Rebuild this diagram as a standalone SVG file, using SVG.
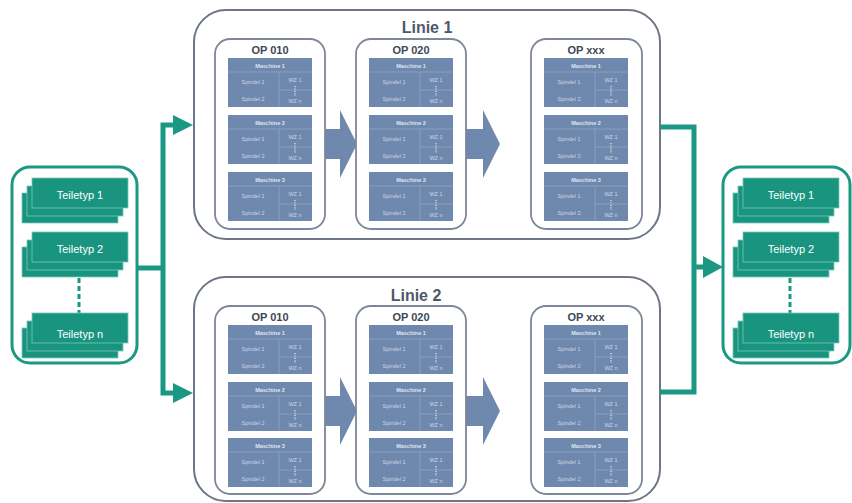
<svg xmlns="http://www.w3.org/2000/svg" width="852" height="503" viewBox="0 0 852 503">
<defs>
<style>
.bg{fill:#ffffff}
.ext{fill:#ffffff;stroke:#1b9883;stroke-width:3}
.tt{fill:#19957f;stroke:#7cc7b9;stroke-width:0.8}
.ttx{font-family:"Liberation Sans",Arial,sans-serif;font-size:11px;fill:#ffffff;text-anchor:middle}
.dash{stroke:#1b9883;stroke-width:3;stroke-dasharray:5 3;fill:none}
.line{fill:#ffffff;stroke:#6c7687;stroke-width:2}
.ltitle{font-family:"Liberation Sans",Arial,sans-serif;font-size:16px;font-weight:bold;fill:#4d5868;text-anchor:middle}
.op{fill:#ffffff;stroke:#7d8797;stroke-width:1.8}
.optitle{font-family:"Liberation Sans",Arial,sans-serif;font-size:11px;font-weight:bold;fill:#3e4756;text-anchor:middle}
.m{fill:#6f88ad}
.ml{stroke:#90a4c3;stroke-width:0.8;fill:none}
.mh{font-family:"Liberation Sans",Arial,sans-serif;font-size:5.5px;font-weight:bold;fill:#dfe6f1;text-anchor:middle}
.mt{font-family:"Liberation Sans",Arial,sans-serif;font-size:5.5px;fill:#cdd7e6;text-anchor:middle}
.md{stroke:#dfe6f1;stroke-width:1.2;stroke-dasharray:1.2 1.2;fill:none}
.flow{fill:#6f88ad}
.conn{stroke:#1b9883;stroke-width:5;fill:none}
.head{fill:#1b9883}
</style>
</defs>
<rect class="bg" x="0" y="0" width="852" height="503"/>

<g id="input">
<rect class="ext" x="12" y="167" width="125" height="196" rx="18"/>
<rect class="tt" x="22" y="193" width="96" height="30"/><rect class="tt" x="27" y="186" width="96" height="30"/><rect class="tt" x="32" y="178" width="96" height="30"/>
<text class="ttx" x="80" y="199">Teiletyp 1</text>
<rect class="tt" x="22" y="247" width="96" height="30"/><rect class="tt" x="27" y="240" width="96" height="30"/><rect class="tt" x="32" y="232" width="96" height="30"/>
<text class="ttx" x="80" y="253">Teiletyp 2</text>
<line class="dash" x1="79" y1="278" x2="79" y2="313"/>
<rect class="tt" x="22" y="328" width="96" height="30"/><rect class="tt" x="27" y="321" width="96" height="30"/><rect class="tt" x="32" y="313" width="96" height="30"/>
<text class="ttx" x="80" y="338">Teiletyp n</text>
</g>

<g id="output">
<rect class="ext" x="723" y="167" width="127" height="196" rx="18"/>
<rect class="tt" x="733" y="193" width="96" height="30"/><rect class="tt" x="738" y="186" width="96" height="30"/><rect class="tt" x="743" y="178" width="96" height="30"/>
<text class="ttx" x="791" y="199">Teiletyp 1</text>
<rect class="tt" x="733" y="247" width="96" height="30"/><rect class="tt" x="738" y="240" width="96" height="30"/><rect class="tt" x="743" y="232" width="96" height="30"/>
<text class="ttx" x="791" y="253">Teiletyp 2</text>
<line class="dash" x1="790" y1="278" x2="790" y2="313"/>
<rect class="tt" x="733" y="328" width="96" height="30"/><rect class="tt" x="738" y="321" width="96" height="30"/><rect class="tt" x="743" y="313" width="96" height="30"/>
<text class="ttx" x="791" y="338">Teiletyp n</text>
</g>

<g id="linie1">
<rect class="line" x="194" y="10" width="466" height="229" rx="32"/>
<text class="ltitle" x="427" y="33">Linie 1</text>
</g>
<g id="linie2">
<rect class="line" x="194" y="277" width="466" height="224" rx="32"/>
<text class="ltitle" x="416" y="301">Linie 2</text>
</g>

<g id="connectors">
<polygon class="flow" points="325,129 340,129 340,110 357,144 340,178 340,159 325,159"/>
<polygon class="flow" points="466,129 483,129 483,110 500,144 483,178 483,159 466,159"/>
<polygon class="flow" points="325,396 340,396 340,377 357,411 340,445 340,426 325,426"/>
<polygon class="flow" points="466,396 483,396 483,377 500,411 483,445 483,426 466,426"/>
<path class="conn" d="M137,268 H163 M163,122.5 V395.5 M160.5,125 H176 M160.5,393 H176"/>
<polygon class="head" points="173,115 193,125 173,135"/>
<polygon class="head" points="173,383 193,393 173,403"/>
<path class="conn" d="M660,127 H694 V392 H660 M694,267 H706"/>
<polygon class="head" points="703,256 723,267 703,278"/>
</g>

<g id="l1-op010" transform="translate(215,39)">
<rect class="op" x="0" y="0" width="110" height="190" rx="15"/>
<text class="optitle" x="55" y="15">OP 010</text>
<g transform="translate(13,19)"><rect class="m" width="84" height="49"/><path class="ml" d="M0,14H84M51,14V49M51,32H84"/><text class="mh" x="42" y="9.5">Maschine 1</text><text class="mt" x="25" y="26">Spindel 1</text><text class="mt" x="25" y="43">Spindel 2</text><text class="mt" x="67" y="24">WZ 1</text><path class="md" d="M67,28V38"/><text class="mt" x="67" y="45">WZ n</text></g>
<g transform="translate(13,76)"><rect class="m" width="84" height="49"/><path class="ml" d="M0,14H84M51,14V49M51,32H84"/><text class="mh" x="42" y="9.5">Maschine 2</text><text class="mt" x="25" y="26">Spindel 1</text><text class="mt" x="25" y="43">Spindel 2</text><text class="mt" x="67" y="24">WZ 1</text><path class="md" d="M67,28V38"/><text class="mt" x="67" y="45">WZ n</text></g>
<g transform="translate(13,133)"><rect class="m" width="84" height="49"/><path class="ml" d="M0,14H84M51,14V49M51,32H84"/><text class="mh" x="42" y="9.5">Maschine 3</text><text class="mt" x="25" y="26">Spindel 1</text><text class="mt" x="25" y="43">Spindel 2</text><text class="mt" x="67" y="24">WZ 1</text><path class="md" d="M67,28V38"/><text class="mt" x="67" y="45">WZ n</text></g>
</g>

<g id="l1-op020" transform="translate(356,39)">
<rect class="op" x="0" y="0" width="110" height="190" rx="15"/>
<text class="optitle" x="55" y="15">OP 020</text>
<g transform="translate(13,19)"><rect class="m" width="84" height="49"/><path class="ml" d="M0,14H84M51,14V49M51,32H84"/><text class="mh" x="42" y="9.5">Maschine 1</text><text class="mt" x="25" y="26">Spindel 1</text><text class="mt" x="25" y="43">Spindel 2</text><text class="mt" x="67" y="24">WZ 1</text><path class="md" d="M67,28V38"/><text class="mt" x="67" y="45">WZ n</text></g>
<g transform="translate(13,76)"><rect class="m" width="84" height="49"/><path class="ml" d="M0,14H84M51,14V49M51,32H84"/><text class="mh" x="42" y="9.5">Maschine 2</text><text class="mt" x="25" y="26">Spindel 1</text><text class="mt" x="25" y="43">Spindel 2</text><text class="mt" x="67" y="24">WZ 1</text><path class="md" d="M67,28V38"/><text class="mt" x="67" y="45">WZ n</text></g>
<g transform="translate(13,133)"><rect class="m" width="84" height="49"/><path class="ml" d="M0,14H84M51,14V49M51,32H84"/><text class="mh" x="42" y="9.5">Maschine 3</text><text class="mt" x="25" y="26">Spindel 1</text><text class="mt" x="25" y="43">Spindel 2</text><text class="mt" x="67" y="24">WZ 1</text><path class="md" d="M67,28V38"/><text class="mt" x="67" y="45">WZ n</text></g>
</g>

<g id="l1-opxxx" transform="translate(531,39)">
<rect class="op" x="0" y="0" width="111" height="190" rx="15"/>
<text class="optitle" x="55" y="15">OP xxx</text>
<g transform="translate(13,19)"><rect class="m" width="84" height="49"/><path class="ml" d="M0,14H84M51,14V49M51,32H84"/><text class="mh" x="42" y="9.5">Maschine 1</text><text class="mt" x="25" y="26">Spindel 1</text><text class="mt" x="25" y="43">Spindel 2</text><text class="mt" x="67" y="24">WZ 1</text><path class="md" d="M67,28V38"/><text class="mt" x="67" y="45">WZ n</text></g>
<g transform="translate(13,76)"><rect class="m" width="84" height="49"/><path class="ml" d="M0,14H84M51,14V49M51,32H84"/><text class="mh" x="42" y="9.5">Maschine 2</text><text class="mt" x="25" y="26">Spindel 1</text><text class="mt" x="25" y="43">Spindel 2</text><text class="mt" x="67" y="24">WZ 1</text><path class="md" d="M67,28V38"/><text class="mt" x="67" y="45">WZ n</text></g>
<g transform="translate(13,133)"><rect class="m" width="84" height="49"/><path class="ml" d="M0,14H84M51,14V49M51,32H84"/><text class="mh" x="42" y="9.5">Maschine 3</text><text class="mt" x="25" y="26">Spindel 1</text><text class="mt" x="25" y="43">Spindel 2</text><text class="mt" x="67" y="24">WZ 1</text><path class="md" d="M67,28V38"/><text class="mt" x="67" y="45">WZ n</text></g>
</g>

<g id="l2-op010" transform="translate(215,306)">
<rect class="op" x="0" y="0" width="110" height="188" rx="15"/>
<text class="optitle" x="55" y="15">OP 010</text>
<g transform="translate(13,19)"><rect class="m" width="84" height="49"/><path class="ml" d="M0,14H84M51,14V49M51,32H84"/><text class="mh" x="42" y="9.5">Maschine 1</text><text class="mt" x="25" y="26">Spindel 1</text><text class="mt" x="25" y="43">Spindel 2</text><text class="mt" x="67" y="24">WZ 1</text><path class="md" d="M67,28V38"/><text class="mt" x="67" y="45">WZ n</text></g>
<g transform="translate(13,76)"><rect class="m" width="84" height="49"/><path class="ml" d="M0,14H84M51,14V49M51,32H84"/><text class="mh" x="42" y="9.5">Maschine 2</text><text class="mt" x="25" y="26">Spindel 1</text><text class="mt" x="25" y="43">Spindel 2</text><text class="mt" x="67" y="24">WZ 1</text><path class="md" d="M67,28V38"/><text class="mt" x="67" y="45">WZ n</text></g>
<g transform="translate(13,132)"><rect class="m" width="84" height="49"/><path class="ml" d="M0,14H84M51,14V49M51,32H84"/><text class="mh" x="42" y="9.5">Maschine 3</text><text class="mt" x="25" y="26">Spindel 1</text><text class="mt" x="25" y="43">Spindel 2</text><text class="mt" x="67" y="24">WZ 1</text><path class="md" d="M67,28V38"/><text class="mt" x="67" y="45">WZ n</text></g>
</g>

<g id="l2-op020" transform="translate(356,306)">
<rect class="op" x="0" y="0" width="110" height="188" rx="15"/>
<text class="optitle" x="55" y="15">OP 020</text>
<g transform="translate(13,19)"><rect class="m" width="84" height="49"/><path class="ml" d="M0,14H84M51,14V49M51,32H84"/><text class="mh" x="42" y="9.5">Maschine 1</text><text class="mt" x="25" y="26">Spindel 1</text><text class="mt" x="25" y="43">Spindel 2</text><text class="mt" x="67" y="24">WZ 1</text><path class="md" d="M67,28V38"/><text class="mt" x="67" y="45">WZ n</text></g>
<g transform="translate(13,76)"><rect class="m" width="84" height="49"/><path class="ml" d="M0,14H84M51,14V49M51,32H84"/><text class="mh" x="42" y="9.5">Maschine 2</text><text class="mt" x="25" y="26">Spindel 1</text><text class="mt" x="25" y="43">Spindel 2</text><text class="mt" x="67" y="24">WZ 1</text><path class="md" d="M67,28V38"/><text class="mt" x="67" y="45">WZ n</text></g>
<g transform="translate(13,132)"><rect class="m" width="84" height="49"/><path class="ml" d="M0,14H84M51,14V49M51,32H84"/><text class="mh" x="42" y="9.5">Maschine 3</text><text class="mt" x="25" y="26">Spindel 1</text><text class="mt" x="25" y="43">Spindel 2</text><text class="mt" x="67" y="24">WZ 1</text><path class="md" d="M67,28V38"/><text class="mt" x="67" y="45">WZ n</text></g>
</g>

<g id="l2-opxxx" transform="translate(531,306)">
<rect class="op" x="0" y="0" width="111" height="188" rx="15"/>
<text class="optitle" x="55" y="15">OP xxx</text>
<g transform="translate(13,19)"><rect class="m" width="84" height="49"/><path class="ml" d="M0,14H84M51,14V49M51,32H84"/><text class="mh" x="42" y="9.5">Maschine 1</text><text class="mt" x="25" y="26">Spindel 1</text><text class="mt" x="25" y="43">Spindel 2</text><text class="mt" x="67" y="24">WZ 1</text><path class="md" d="M67,28V38"/><text class="mt" x="67" y="45">WZ n</text></g>
<g transform="translate(13,76)"><rect class="m" width="84" height="49"/><path class="ml" d="M0,14H84M51,14V49M51,32H84"/><text class="mh" x="42" y="9.5">Maschine 2</text><text class="mt" x="25" y="26">Spindel 1</text><text class="mt" x="25" y="43">Spindel 2</text><text class="mt" x="67" y="24">WZ 1</text><path class="md" d="M67,28V38"/><text class="mt" x="67" y="45">WZ n</text></g>
<g transform="translate(13,132)"><rect class="m" width="84" height="49"/><path class="ml" d="M0,14H84M51,14V49M51,32H84"/><text class="mh" x="42" y="9.5">Maschine 3</text><text class="mt" x="25" y="26">Spindel 1</text><text class="mt" x="25" y="43">Spindel 2</text><text class="mt" x="67" y="24">WZ 1</text><path class="md" d="M67,28V38"/><text class="mt" x="67" y="45">WZ n</text></g>
</g>
</svg>
